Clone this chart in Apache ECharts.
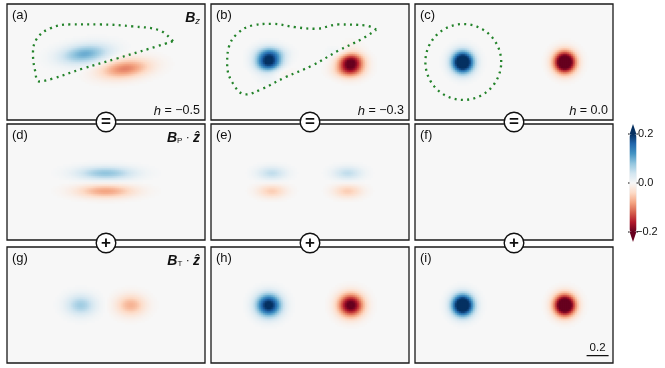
<!DOCTYPE html>
<html>
<head>
<meta charset="utf-8">
<script src="https://cdn.jsdelivr.net/npm/echarts@6/dist/echarts.min.js"></script>
<style>
  html, body { margin: 0; padding: 0; background: #fff; }
  #chart { width: 665px; height: 368px; }
</style>
</head>
<body>
<div id="chart"></div>
<script>
// ---- data (units: same as the 0.2 scale bar) ----
// each blob: [x, y, sigmaX, sigmaY, amplitude, tilt(rad, optional)]
const blobsA = [[-0.19, 0.075, 0.15, 0.058, 0.1, 0.12], [0.175, -0.06, 0.155, 0.058, -0.1, 0.12]];
const blobsD = [[0, 0.082, 0.177, 0.041, 0.08], [0, -0.082, 0.177, 0.041, -0.08]];
const blobsE = [[-0.345, 0.082, 0.09, 0.041, 0.05], [-0.345, -0.082, 0.09, 0.041, -0.05],
                [0.345, 0.082, 0.09, 0.041, 0.05], [0.345, -0.082, 0.09, 0.041, -0.05]];
const blobsF = [];
const blobsG = [[-0.227, 0, 0.09, 0.064, 0.07], [0.227, 0, 0.09, 0.064, -0.07]];
const blobsH = [[-0.373, 0, 0.077, 0.07, 0.22], [0.373, 0, 0.077, 0.07, -0.22]];
const blobsI = [[-0.464, 0, 0.066, 0.066, 0.3], [0.464, 0, 0.066, 0.066, -0.3]];

// dotted green outlines in the top row
const outlineA = [[0.609, 0.189], [0.491, 0.286], [0.245, 0.323], [-0.055, 0.341], [-0.327, 0.341],
  [-0.509, 0.305], [-0.627, 0.214], [-0.664, 0.077], [-0.645, -0.077], [-0.609, -0.177],
  [-0.482, -0.150], [-0.209, -0.059], [0.100, 0.032], [0.400, 0.123], [0.609, 0.189]];
const outlineB = [[0.602, 0.293], [0.505, 0.332], [0.262, 0.341], [0.050, 0.302], [-0.132, 0.316],
  [-0.344, 0.347], [-0.525, 0.332], [-0.662, 0.256], [-0.738, 0.135], [-0.753, -0.016],
  [-0.707, -0.184], [-0.586, -0.295], [-0.435, -0.244], [-0.223, -0.138], [0.020, -0.032],
  [0.262, 0.105], [0.475, 0.211], [0.602, 0.293]];
const circleC = [-0.461, 0, 0.345]; // center x, center y, radius

const panelLetters = ['(a)', '(b)', '(c)', '(d)', '(e)', '(f)', '(g)', '(h)', '(i)'];
const heightLabels = ['−0.5', '−0.3', '0.0'];
const colorbarTicks = [0.2, 0.0, -0.2];
const scaleBarLength = 0.2;

const panelBlobs = [
  blobsA, blobsE.concat(blobsH), blobsF.concat(blobsI),
  blobsD, blobsE, blobsF,
  blobsG, blobsH, blobsI
];

// ---- layout ----
const LEFTS = [7, 211, 415];
const TOPS = [4, 124, 247];
const W = 198, H = 116;
const XR = [-0.9, 0.9], YR = [-0.527, 0.527];
const NX = 99, NY = 58;
const FONT = '"Liberation Sans", Arial, Helvetica, "DejaVu Sans", sans-serif';
const VMIN = -0.2, VMAX = 0.2;
const RDBU_R = ['#67001f', '#b2182b', '#d6604d', '#f4a582', '#fddbc7', '#f7f7f7',
                '#d1e5f0', '#92c5de', '#4393c3', '#2166ac', '#053061'];

const myChart = echarts.init(document.getElementById('chart'));

const fieldAt = (blobs, x, y) => {
  let v = 0;
  blobs.forEach(([bx, by, sx, sy, a, th]) => {
    const c = Math.cos(th || 0), s = Math.sin(th || 0);
    const u = (x - bx) * c + (y - by) * s, w = -(x - bx) * s + (y - by) * c;
    const dx = u / sx, dy = w / sy;
    v += a * Math.exp(-0.5 * (dx * dx + dy * dy));
  });
  return v;
};

const buildCells = (blobs) => {
  const cells = [];
  for (let i = 0; i < NX; i++) {
    const x = XR[0] + (i + 0.5) * (XR[1] - XR[0]) / NX;
    for (let j = 0; j < NY; j++) {
      const y = YR[0] + (j + 0.5) * (YR[1] - YR[0]) / NY;
      let v = fieldAt(blobs, x, y);
      if (Math.abs(v) < 0.0015) continue;
      v = Math.max(VMIN, Math.min(VMAX, v));
      cells.push([i, j, v]);
    }
  }
  return cells;
};

const toPx = (k, x, y) => {
  const r = Math.floor(k / 3), c = k % 3;
  return [LEFTS[c] + (x - XR[0]) / (XR[1] - XR[0]) * W,
          TOPS[r] + (YR[1] - y) / (YR[1] - YR[0]) * H];
};

const ctx = document.createElement('canvas').getContext('2d');
const measure = (t, font) => { ctx.font = font; return ctx.measureText(t).width; };

// place a row of text pieces ending at xRight
const placeParts = (parts, xRight, yMid) => {
  let x = xRight;
  const out = [];
  for (let n = parts.length - 1; n >= 0; n--) {
    const p = parts[n];
    const w = measure(p.t, p.font);
    x -= w;
    out.push({
      type: 'text', x: x, y: yMid + (p.dy || 0), z: 20,
      style: { text: p.t, font: p.font, fill: '#111', textAlign: 'left', textVerticalAlign: 'middle' }
    });
  }
  return out;
};

const xCats = Array.from({ length: NX }, (_, i) => String(i));
const yCats = Array.from({ length: NY }, (_, i) => String(i));

const grids = [], xAxes = [], yAxes = [], series = [], graphics = [];

panelBlobs.forEach((blobs, k) => {
  const r = Math.floor(k / 3), c = k % 3;
  grids.push({ left: LEFTS[c], top: TOPS[r], width: W, height: H,
               show: true, backgroundColor: '#f7f7f7', borderWidth: 0 });
  xAxes.push({ type: 'category', gridIndex: k, data: xCats, show: false });
  xAxes.push({ type: 'value', gridIndex: k, min: XR[0], max: XR[1], show: false });
  yAxes.push({ type: 'category', gridIndex: k, data: yCats, show: false });
  yAxes.push({ type: 'value', gridIndex: k, min: YR[0], max: YR[1], show: false });
  series.push({
    type: 'heatmap', xAxisIndex: 2 * k, yAxisIndex: 2 * k,
    data: buildCells(blobs), progressive: 0, silent: true,
    emphasis: { disabled: true }, itemStyle: { borderWidth: 0 }
  });
});

// outlines
const dotted = { color: '#23832a', width: 2.3, type: [2, 4.3], cap: 'butt' };
series.push({ type: 'line', xAxisIndex: 1, yAxisIndex: 1, data: outlineA, smooth: 0.4,
              showSymbol: false, silent: true, lineStyle: dotted, z: 5 });
series.push({ type: 'line', xAxisIndex: 3, yAxisIndex: 3, data: outlineB, smooth: 0.4,
              showSymbol: false, silent: true, lineStyle: dotted, z: 5 });
const circlePts = [];
for (let n = 0; n <= 72; n++) {
  const t = n / 72 * 2 * Math.PI;
  circlePts.push([circleC[0] + circleC[2] * Math.cos(t), circleC[1] + circleC[2] * Math.sin(t)]);
}
series.push({ type: 'line', xAxisIndex: 5, yAxisIndex: 5, data: circlePts,
              showSymbol: false, silent: true, lineStyle: dotted, z: 5 });

// scale bar in (i)
const sbX1 = 0.86, sbY = -0.46;
series.push({ type: 'line', xAxisIndex: 17, yAxisIndex: 17,
              data: [[sbX1 - scaleBarLength, sbY], [sbX1, sbY]],
              showSymbol: false, silent: true, lineStyle: { color: '#111', width: 1.3 }, z: 5 });
const sbMid = toPx(8, sbX1 - scaleBarLength / 2, sbY);
graphics.push({ type: 'text', x: sbMid[0], y: sbMid[1] - 8, z: 20,
  style: { text: scaleBarLength.toFixed(1), font: '11.5px ' + FONT, fill: '#111',
           textAlign: 'center', textVerticalAlign: 'middle' } });

// panel borders, letters
panelBlobs.forEach((_, k) => {
  const r = Math.floor(k / 3), c = k % 3;
  graphics.push({ type: 'rect', z: 10, shape: { x: LEFTS[c], y: TOPS[r], width: W, height: H },
    style: { fill: null, stroke: '#1a1a1a', lineWidth: 1.3 } });
  graphics.push({ type: 'text', x: LEFTS[c] + 5, y: TOPS[r] + 11, z: 20,
    style: { text: panelLetters[k], font: '13px ' + FONT, fill: '#111',
             textAlign: 'left', textVerticalAlign: 'middle' } });
});

// h labels
heightLabels.forEach((h, c) => {
  graphics.push({ type: 'text', x: LEFTS[c] + W - 5, y: TOPS[0] + H - 9, z: 20,
    style: { text: '{i|h} = ' + h, font: '12.5px ' + FONT, fill: '#111',
             textAlign: 'right', textVerticalAlign: 'middle',
             rich: { i: { fontStyle: 'italic', fontSize: 13, fontFamily: FONT, fill: '#111' } } } });
});

// field labels
const bi = 'italic bold 14px ' + FONT;
graphics.push(...placeParts([{ t: 'B', font: bi }, { t: 'z', font: 'italic 9.5px ' + FONT, dy: 3 }],
                            LEFTS[0] + W - 5, TOPS[0] + 14));
graphics.push(...placeParts([{ t: 'B', font: bi }, { t: 'P', font: '8px ' + FONT, dy: 3 },
                             { t: ' · ', font: '12px ' + FONT }, { t: 'ẑ', font: bi }],
                            LEFTS[0] + W - 5, TOPS[1] + 14));
graphics.push(...placeParts([{ t: 'B', font: bi }, { t: 'T', font: '8px ' + FONT, dy: 3 },
                             { t: ' · ', font: '12px ' + FONT }, { t: 'ẑ', font: bi }],
                            LEFTS[0] + W - 5, TOPS[2] + 14));

// connector circles
const connectors = [['=', TOPS[0] + H + 2], ['+', TOPS[1] + H + 3]];
connectors.forEach(([sym, cy]) => {
  LEFTS.forEach((l) => {
    const cx = l + W / 2;
    graphics.push({ type: 'circle', z: 30, shape: { cx: cx, cy: cy, r: 9.8 },
      style: { fill: '#fff', stroke: '#111', lineWidth: 1.4 } });
    graphics.push({ type: 'text', x: cx, y: cy + 0.5, z: 31,
      style: { text: sym, font: 'bold 17px ' + FONT, fill: '#111',
               textAlign: 'center', textVerticalAlign: 'middle' } });
  });
});

// colorbar extras
const cbX = 629.5, cbW = 7, cbTop = 134, cbLen = 98;
graphics.push({ type: 'polygon', z: 20,
  shape: { points: [[cbX, cbTop + 0.5], [cbX + cbW, cbTop + 0.5], [cbX + cbW / 2, cbTop - 10]] },
  style: { fill: RDBU_R[RDBU_R.length - 1] } });
graphics.push({ type: 'polygon', z: 20,
  shape: { points: [[cbX, cbTop + cbLen - 0.5], [cbX + cbW, cbTop + cbLen - 0.5], [cbX + cbW / 2, cbTop + cbLen + 10]] },
  style: { fill: RDBU_R[0] } });
colorbarTicks.forEach((t) => {
  const y = cbTop + (VMAX - t) / (VMAX - VMIN) * cbLen;
  graphics.push({ type: 'text', x: t < 0 ? cbX + cbW - 0.5 : cbX + cbW + 1.5, y: y, z: 20,
    style: { text: (t < 0 ? '−' : '') + Math.abs(t).toFixed(1), font: '11px ' + FONT, fill: '#111',
             textAlign: 'left', textVerticalAlign: 'middle' } });
  graphics.push({ type: 'line', z: 21, shape: { x1: cbX - 1.5, y1: y, x2: cbX, y2: y },
    style: { stroke: '#111', lineWidth: 1 } });
  graphics.push({ type: 'line', z: 21, shape: { x1: cbX + cbW, y1: y, x2: cbX + cbW + 1.5, y2: y },
    style: { stroke: '#111', lineWidth: 1 } });
});

myChart.setOption({
  animation: false,
  grid: grids,
  xAxis: xAxes,
  yAxis: yAxes,
  visualMap: {
    type: 'continuous', min: VMIN, max: VMAX, dimension: 2,
    seriesIndex: [0, 1, 2, 3, 4, 5, 6, 7, 8],
    left: cbX, top: cbTop, itemWidth: cbW, itemHeight: cbLen, padding: 0,
    calculable: false, hoverLink: false, showLabel: false, text: null,
    inRange: { color: RDBU_R }
  },
  series: series,
  graphic: graphics
});
</script>
</body>
</html>
